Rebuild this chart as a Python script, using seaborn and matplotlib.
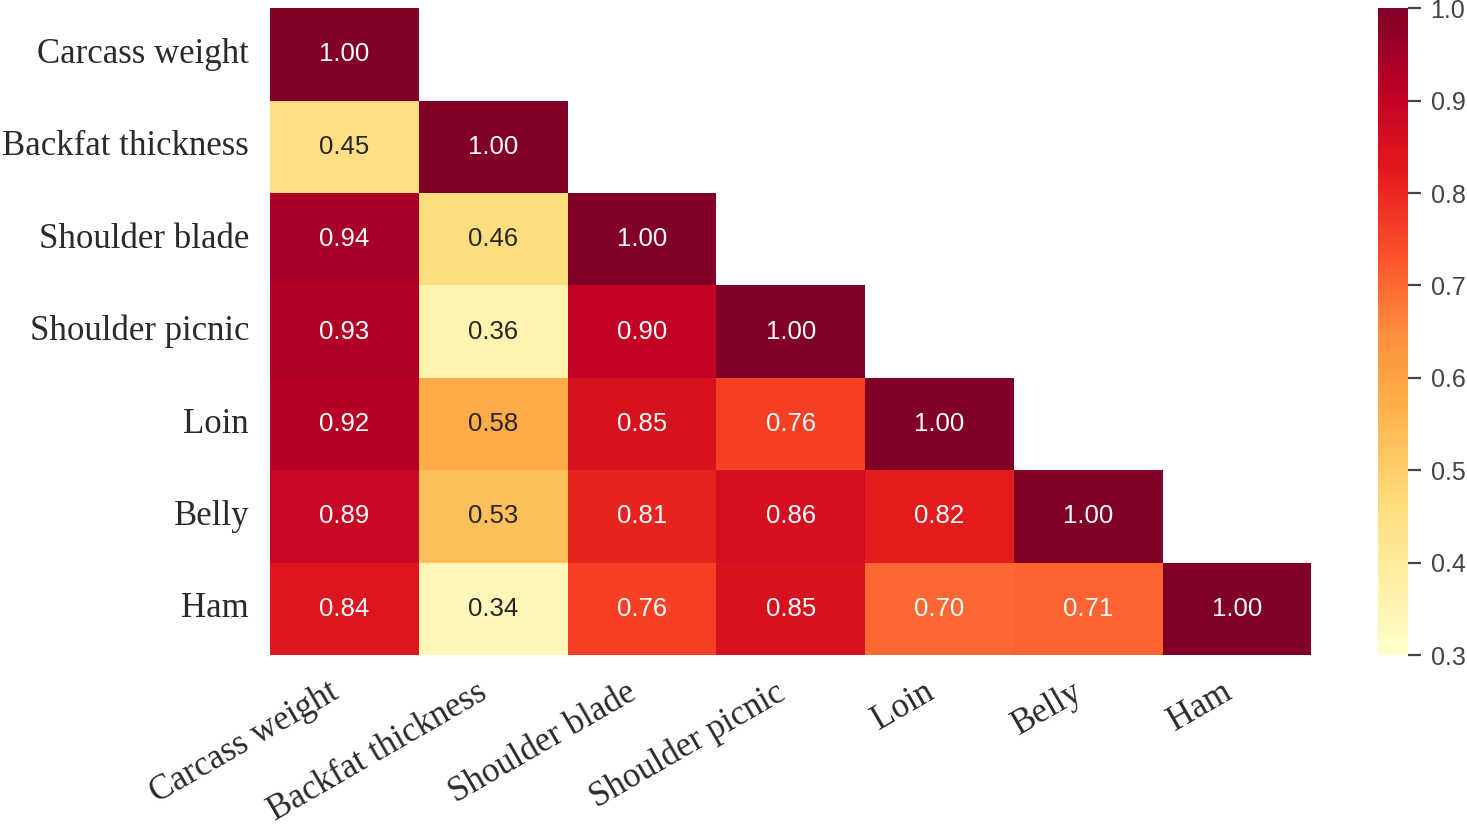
import numpy as np
import pandas as pd
import matplotlib
matplotlib.use("Agg")
import matplotlib.pyplot as plt
import seaborn as sns

traits = ["Carcass weight", "Backfat thickness", "Shoulder blade",
          "Shoulder picnic", "Loin", "Belly", "Ham"]

row_cw = [1.00, np.nan, np.nan, np.nan, np.nan, np.nan, np.nan]
row_bt = [0.45, 1.00, np.nan, np.nan, np.nan, np.nan, np.nan]
row_sb = [0.94, 0.46, 1.00, np.nan, np.nan, np.nan, np.nan]
row_sp = [0.93, 0.36, 0.90, 1.00, np.nan, np.nan, np.nan]
row_loin = [0.92, 0.58, 0.85, 0.76, 1.00, np.nan, np.nan]
row_belly = [0.89, 0.53, 0.81, 0.86, 0.82, 1.00, np.nan]
row_ham = [0.84, 0.34, 0.76, 0.85, 0.70, 0.71, 1.00]

cbar_ticks = [0.3, 0.4, 0.5, 0.6, 0.7, 0.8, 0.9, 1.0]

corr = pd.DataFrame([row_cw, row_bt, row_sb, row_sp, row_loin, row_belly, row_ham],
                    index=traits, columns=traits)
mask = np.triu(np.ones(corr.shape, dtype=bool), k=1)

sns.set_style("white")
plt.rcParams['font.family'] = ['Liberation Sans', 'DejaVu Sans']

fig = plt.figure(figsize=(14.67, 8.26), dpi=100)
ax = fig.add_axes([0.184, 0.207, 0.710, 0.783])
cax = fig.add_axes([0.939, 0.207, 0.021, 0.783])

sns.heatmap(corr, mask=mask, ax=ax, cbar_ax=cax, cmap="YlOrRd",
            vmin=0.3, vmax=1.0, annot=True, fmt=".2f",
            annot_kws={"fontsize": 18.5})

ax.tick_params(length=0, pad=15)
ax.set_xticklabels(traits, rotation=30, ha="right", family="Liberation Serif",
                   fontsize=25, color="#2a2a2a")
ax.set_yticklabels(traits, rotation=0, family="Liberation Serif",
                   fontsize=25, color="#2a2a2a")

cax.tick_params(right=True, length=9, width=1.6, color="#444444", pad=7,
                labelsize=18, labelcolor="#444444")
cax.set_yticks(cbar_ticks)
cax.set_yticklabels([f"{t:.1f}" for t in cbar_ticks])
for s in cax.spines.values():
    s.set_visible(False)

fig.savefig("out.png", dpi=100)
